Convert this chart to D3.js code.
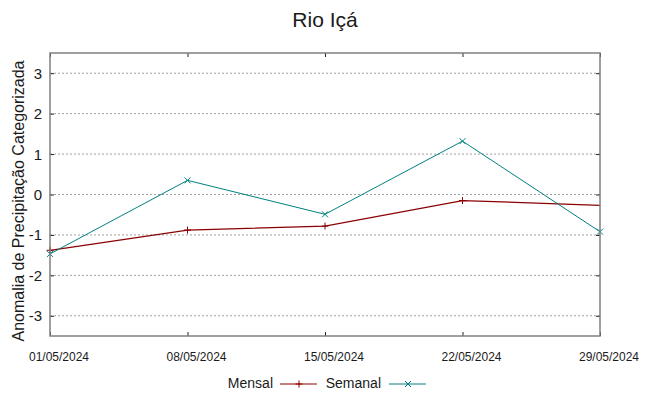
<!DOCTYPE html>
<html>
<head>
<meta charset="utf-8">
<script src="https://cdn.jsdelivr.net/npm/d3@7"></script>
<style>
  body { margin: 0; background: #fff; }
  text { font-family: "Liberation Sans", Arial, sans-serif; fill: #1a1a1a; }
</style>
</head>
<body>
<div id="chart"></div>
<script>
// data
const tickDates = ["01/05/2024", "08/05/2024", "15/05/2024", "22/05/2024", "29/05/2024"];
const mensalDates = ["01/05/2024", "08/05/2024", "15/05/2024", "22/05/2024", "31/05/2024"];
const mensalValues = [-1.38, -0.88, -0.78, -0.15, -0.30];
const semanalDates = ["01/05/2024", "08/05/2024", "15/05/2024", "22/05/2024", "29/05/2024"];
const semanalValues = [-1.47, 0.35, -0.49, 1.32, -0.92];
const yTicks = [-3, -2, -1, 0, 1, 2, 3];

const parse = d3.timeParse("%d/%m/%Y");
const fmt = d3.timeFormat("%d/%m/%Y");

const width = 649, height = 396;
const margin = {left: 50, right: 49, top: 53, bottom: 60};

const svg = d3.select("#chart").append("svg")
    .attr("width", width)
    .attr("height", height);

const x = d3.scaleTime()
    .domain([parse(tickDates[0]), parse(tickDates[tickDates.length - 1])])
    .range([margin.left, width - margin.right]);

const y = d3.scaleLinear()
    .domain([-3.5, 3.5])
    .range([height - margin.bottom, margin.top]);

// title
svg.append("text")
    .attr("x", 325).attr("y", 27)
    .attr("text-anchor", "middle")
    .style("font-size", "21px")
    .text("Rio Içá");

// horizontal grid
svg.append("g").selectAll("line")
    .data(yTicks)
    .join("line")
    .attr("x1", margin.left).attr("x2", width - margin.right)
    .attr("y1", d => y(d)).attr("y2", d => y(d))
    .attr("stroke", "#a0a0a0")
    .attr("stroke-dasharray", "2,2");

// axes (ticks inward, mirrored)
const yLeft = svg.append("g")
    .attr("transform", `translate(${margin.left},0)`)
    .call(d3.axisRight(y).tickValues(yTicks).tickSize(4).tickFormat(""));
const yRight = svg.append("g")
    .attr("transform", `translate(${width - margin.right},0)`)
    .call(d3.axisLeft(y).tickValues(yTicks).tickSize(4).tickFormat(""));
const xBottom = svg.append("g")
    .attr("transform", `translate(0,${height - margin.bottom})`)
    .call(d3.axisTop(x).tickValues(tickDates.map(parse)).tickSize(4).tickFormat(""));
const xTop = svg.append("g")
    .attr("transform", `translate(0,${margin.top})`)
    .call(d3.axisBottom(x).tickValues(tickDates.map(parse)).tickSize(4).tickFormat(""));
[yLeft, yRight, xBottom, xTop].forEach(g => {
    g.select(".domain").remove();
    g.selectAll(".tick line").attr("stroke", "#222");
});

// y tick labels
svg.append("g").selectAll("text")
    .data(yTicks)
    .join("text")
    .attr("x", 42).attr("y", d => y(d) + 5.5)
    .attr("text-anchor", "end")
    .style("font-size", "15px")
    .text(d => d);

// x tick labels
svg.append("g").selectAll("text")
    .data(tickDates.map(parse))
    .join("text")
    .attr("x", d => x(d) + 9).attr("y", 361)
    .attr("text-anchor", "middle")
    .style("font-size", "12px")
    .text(d => fmt(d));

// y axis title
svg.append("text")
    .attr("transform", "translate(24,201) rotate(-90)")
    .attr("text-anchor", "middle")
    .style("font-size", "16px")
    .text("Anomalia de Precipitação Categorizada");

// clip for series
svg.append("clipPath").attr("id", "plotclip")
    .append("rect")
    .attr("x", margin.left).attr("y", margin.top)
    .attr("width", width - margin.left - margin.right)
    .attr("height", height - margin.top - margin.bottom);

const line = d3.line().x(d => x(d.date)).y(d => y(d.value));

const mensal = mensalDates.map((d, i) => ({date: parse(d), value: mensalValues[i]}));
const semanal = semanalDates.map((d, i) => ({date: parse(d), value: semanalValues[i]}));

const plot = svg.append("g").attr("clip-path", "url(#plotclip)");
const mColor = "#8b0000", sColor = "#008080";

plot.append("path").datum(mensal)
    .attr("d", line).attr("fill", "none")
    .attr("stroke", mColor).attr("stroke-width", 1.2);
plot.append("path").datum(semanal)
    .attr("d", line).attr("fill", "none")
    .attr("stroke", sColor).attr("stroke-width", 1);

function plus(g, cx, cy, color) {
    g.append("path")
        .attr("d", `M${cx - 3.5},${cy}H${cx + 3.5}M${cx},${cy - 3.5}V${cy + 3.5}`)
        .attr("stroke", color).attr("stroke-width", 1);
}
function cross(g, cx, cy, color) {
    g.append("path")
        .attr("d", `M${cx - 3},${cy - 3}L${cx + 3},${cy + 3}M${cx - 3},${cy + 3}L${cx + 3},${cy - 3}`)
        .attr("stroke", color).attr("stroke-width", 1);
}

const markers = svg.append("g");
mensal.filter(d => d.date <= x.domain()[1])
    .forEach(d => plus(markers, x(d.date), y(d.value), mColor));
semanal.forEach(d => cross(markers, x(d.date), y(d.value), sColor));

// border
svg.append("rect")
    .attr("x", margin.left).attr("y", margin.top)
    .attr("width", width - margin.left - margin.right)
    .attr("height", height - margin.top - margin.bottom)
    .attr("fill", "none")
    .attr("stroke", "#808080")
    .attr("stroke-width", 1.5);

// legend
const legend = svg.append("g").style("font-size", "14px");
legend.append("text").attr("x", 273).attr("y", 388).attr("text-anchor", "end").text("Mensal");
legend.append("line").attr("x1", 280).attr("x2", 317).attr("y1", 384).attr("y2", 384)
    .attr("stroke", mColor).attr("stroke-width", 1.2);
plus(legend, 299, 384, mColor);
legend.append("text").attr("x", 381).attr("y", 388).attr("text-anchor", "end").text("Semanal");
legend.append("line").attr("x1", 389).attr("x2", 426).attr("y1", 384).attr("y2", 384)
    .attr("stroke", sColor).attr("stroke-width", 1);
cross(legend, 408, 384, sColor);
</script>
</body>
</html>
